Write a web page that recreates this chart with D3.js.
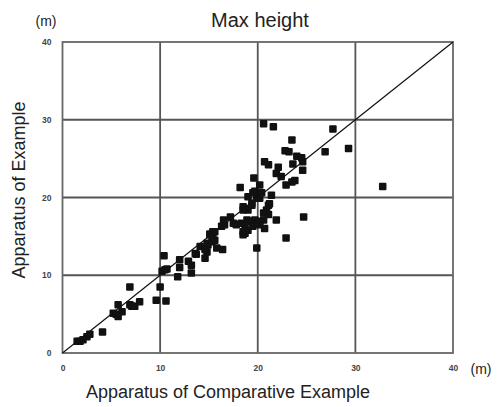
<!DOCTYPE html>
<html>
<head>
<meta charset="utf-8">
<script src="https://cdn.jsdelivr.net/npm/d3@7"></script>
<style>
  html, body { margin: 0; padding: 0; background: #fff; }
  svg { display: block; font-family: "Liberation Sans", Arial, sans-serif; }
</style>
</head>
<body>
<div id="chart"></div>
<script>
// Max height: comparative example (x) vs example (y), metres
const TITLE = 'Max height';
const X_LABEL = 'Apparatus of Comparative Example';
const Y_LABEL = 'Apparatus of Example';
const TICKS = [0, 10, 20, 30, 40];

const comparative = [
  1.5, 1.8, 2.1, 2.5, 2.8, 4.1,
  5.2, 5.5, 5.7, 6.1, 5.7, 6.9, 6.9, 7.1, 7.4, 7.9, 9.6, 10.6, 10.0,
  10.4, 10.2, 10.5, 10.7, 11.8, 12.0, 12.0, 12.9, 13.2, 13.2, 13.6, 14.1, 13.7,
  14.6, 14.8, 14.9, 15.1, 15.4, 15.6, 15.8, 16.4, 14.6, 15.1, 15.4, 15.6, 14.8, 15.3,
  16.3, 16.6, 16.5, 17.2, 17.5, 17.8, 18.3, 18.9, 19.2, 19.7, 20.2, 20.6,
  18.7, 19.0, 19.5, 20.2, 18.5, 20.7, 18.7,
  18.5, 19.9, 22.9, 21.9, 24.7,
  18.2, 19.6, 20.2, 19.7, 20.0, 19.9, 19.0, 18.5, 18.9, 19.4, 20.2, 19.5, 20.4, 19.4, 18.5, 19.0,
  21.4, 21.1, 20.9, 21.2, 20.6, 21.1,
  20.6, 21.6, 23.5, 22.8, 23.2, 24.0, 24.5, 20.7, 21.1, 23.6, 24.6, 22.1, 21.9, 22.4, 22.9, 23.5, 23.8, 24.6,
  27.7, 26.9, 29.3, 32.8
];
const example = [
  1.5, 1.5, 1.7, 2.1, 2.4, 2.7,
  5.1, 5.0, 4.7, 5.3, 6.2, 8.5, 6.2, 6.0, 6.0, 6.6, 6.8, 6.7, 8.5,
  12.5, 10.5, 10.7, 10.8, 9.8, 12.0, 11.0, 11.8, 11.3, 10.3, 12.8, 13.7, 12.7,
  12.2, 13.0, 13.9, 15.3, 15.6, 14.5, 13.5, 13.3, 13.3, 15.2, 15.0, 15.6, 14.1, 14.3,
  16.3, 16.5, 17.1, 17.5, 16.7, 16.5, 16.7, 17.1, 16.9, 17.1, 16.9, 17.1,
  16.3, 15.8, 16.3, 16.5, 15.2, 16.0, 15.4,
  15.6, 13.5, 14.8, 17.1, 17.5,
  21.3, 22.5, 21.6, 20.8, 20.3, 19.9, 20.1, 18.8, 18.6, 19.3, 19.9, 20.6, 20.6, 19.0, 18.4, 18.4,
  20.3, 19.0, 18.4, 19.2, 18.0, 17.8,
  29.5, 29.1, 27.4, 26.0, 25.9, 25.3, 25.1, 24.6, 24.2, 24.3, 23.5, 23.9, 23.1, 22.7, 21.6, 22.0, 22.2, 24.6,
  28.8, 25.9, 26.3, 21.4
];

const width = 497, height = 407;
const plot = { left: 62.5, right: 453, top: 42, bottom: 353 };

const svg = d3.select('#chart').append('svg')
  .attr('width', width)
  .attr('height', height);

const x = d3.scaleLinear().domain([0, 40]).range([plot.left, plot.right]);
const y = d3.scaleLinear().domain([0, 40]).range([plot.bottom, plot.top]);

// grid
svg.append('g').selectAll('line')
  .data(TICKS.slice(1, -1))
  .join('line')
  .attr('x1', d => x(d)).attr('x2', d => x(d))
  .attr('y1', plot.top).attr('y2', plot.bottom)
  .attr('stroke', '#555').attr('stroke-width', 1.8);
svg.append('g').selectAll('line')
  .data(TICKS.slice(1, -1))
  .join('line')
  .attr('x1', plot.left).attr('x2', plot.right)
  .attr('y1', d => y(d)).attr('y2', d => y(d))
  .attr('stroke', '#555').attr('stroke-width', 1.8);

svg.append('rect')
  .attr('x', plot.left).attr('y', plot.top)
  .attr('width', plot.right - plot.left).attr('height', plot.bottom - plot.top)
  .attr('fill', 'none').attr('stroke', '#666').attr('stroke-width', 1.8);

// axes (labels only)
const xAxis = svg.append('g')
  .attr('transform', `translate(0,${plot.bottom})`)
  .call(d3.axisBottom(x).tickValues(TICKS).tickSize(0).tickPadding(12));
const yAxis = svg.append('g')
  .attr('transform', `translate(${plot.left},0)`)
  .call(d3.axisLeft(y).tickValues(TICKS).tickSize(0).tickPadding(11));
[xAxis, yAxis].forEach(a => {
  a.select('.domain').remove();
  a.selectAll('text')
    .style('font-size', '8.5px')
    .style('font-weight', 'bold')
    .attr('fill', '#444');
});

// y = x reference line
svg.append('line')
  .attr('x1', x(0)).attr('y1', y(0))
  .attr('x2', x(40)).attr('y2', y(40))
  .attr('stroke', '#111').attr('stroke-width', 1.2);

// points
const pts = comparative.map((c, i) => ({ c, e: example[i] }));
const s = 7.5;
svg.append('g').selectAll('rect')
  .data(pts)
  .join('rect')
  .attr('x', d => x(d.c) - s / 2)
  .attr('y', d => y(d.e) - s / 2)
  .attr('width', s).attr('height', s)
  .attr('rx', 1)
  .attr('fill', '#111');

// texts
svg.append('text')
  .attr('x', 260).attr('y', 27)
  .attr('text-anchor', 'middle')
  .style('font-size', '20px').attr('fill', '#222')
  .text(TITLE);
svg.append('text')
  .attr('x', 46).attr('y', 26)
  .attr('text-anchor', 'middle')
  .style('font-size', '14px').attr('fill', '#222')
  .text('(m)');
svg.append('text')
  .attr('x', 481).attr('y', 374)
  .attr('text-anchor', 'middle')
  .style('font-size', '14px').attr('fill', '#222')
  .text('(m)');
svg.append('text')
  .attr('x', 228).attr('y', 398)
  .attr('text-anchor', 'middle')
  .style('font-size', '18px').attr('fill', '#222')
  .text(X_LABEL);
svg.append('text')
  .attr('transform', 'translate(25,190) rotate(-90)')
  .attr('text-anchor', 'middle')
  .style('font-size', '18px').attr('fill', '#222')
  .text(Y_LABEL);
</script>
</body>
</html>
